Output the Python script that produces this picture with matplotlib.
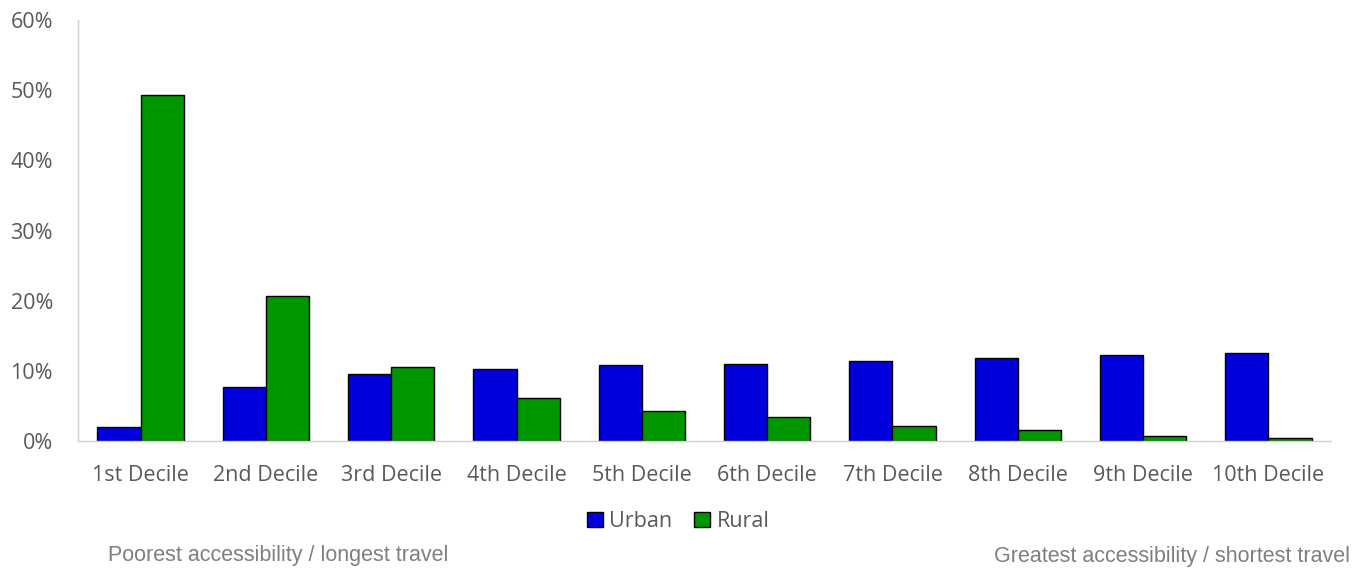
import numpy as np
import matplotlib.pyplot as plt
from matplotlib.ticker import PercentFormatter

# values (percent)
deciles = ["1st Decile", "2nd Decile", "3rd Decile", "4th Decile", "5th Decile",
           "6th Decile", "7th Decile", "8th Decile", "9th Decile", "10th Decile"]
urban = [2.0, 7.7, 9.5, 10.3, 10.8, 11.0, 11.4, 11.8, 12.3, 12.6]
rural = [49.3, 20.7, 10.6, 6.2, 4.3, 3.4, 2.1, 1.5, 0.7, 0.4]

plt.rcParams['font.family'] = ['Open Sans', 'DejaVu Sans']

fig = plt.figure(figsize=(13.64, 5.7), dpi=100)
ax = fig.add_axes([0.0572, 0.2263, 0.9186, 0.7386])

x = np.arange(len(deciles))
w = 0.345
ax.bar(x - w / 2, urban, w, color='#0000dd', edgecolor='black', linewidth=1, label='Urban')
ax.bar(x + w / 2, rural, w, color='#009600', edgecolor='black', linewidth=1, label='Rural')

ax.set_xlim(-0.5, 9.5)
ax.set_ylim(0, 60)
ax.set_yticks(range(0, 61, 10))
ax.yaxis.set_major_formatter(PercentFormatter(decimals=0))
ax.set_xticks(x)
ax.set_xticklabels(deciles)
ax.tick_params(length=0, labelsize=15.5, labelcolor='#595959')
ax.tick_params(axis='x', pad=17)
ax.tick_params(axis='y', pad=18)

for s in ['top', 'right']:
    ax.spines[s].set_visible(False)
for s in ['left', 'bottom']:
    ax.spines[s].set_color('#d0d0d0')
    ax.spines[s].set_linewidth(1)

leg = fig.legend(loc='center', bbox_to_anchor=(0.497, 0.085), ncol=2, frameon=False,
                 fontsize=15.5, handlelength=0.75, handleheight=0.75, handletextpad=0.3,
                 columnspacing=1.0)
for t in leg.get_texts():
    t.set_color('#595959')

fig.text(0.079, 0.026, "Poorest accessibility / longest travel", family='Liberation Sans',
         fontsize=15.5, color='#7f7f7f', ha='left', va='center')
fig.text(0.99, 0.024, "Greatest accessibility / shortest travel", family='Liberation Sans',
         fontsize=15.5, color='#7f7f7f', ha='right', va='center')

fig.savefig('out.png', dpi=100)
